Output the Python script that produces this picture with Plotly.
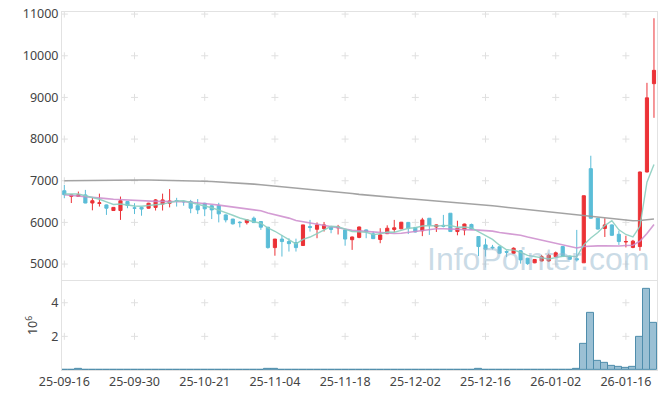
import plotly.graph_objects as go

# ---------------- data ----------------
dates = [
    "25-09-16", "25-09-17", "25-09-18", "25-09-19", "25-09-22", "25-09-23", "25-09-24", "25-09-25", "25-09-26", "25-09-29",
    "25-09-30", "25-10-01", "25-10-02", "25-10-10", "25-10-13", "25-10-14", "25-10-15", "25-10-16", "25-10-17", "25-10-20",
    "25-10-21", "25-10-22", "25-10-23", "25-10-24", "25-10-27", "25-10-28", "25-10-29", "25-10-30", "25-10-31", "25-11-03",
    "25-11-04", "25-11-05", "25-11-06", "25-11-07", "25-11-10", "25-11-11", "25-11-12", "25-11-13", "25-11-14", "25-11-17",
    "25-11-18", "25-11-19", "25-11-20", "25-11-21", "25-11-24", "25-11-25", "25-11-26", "25-11-27", "25-11-28", "25-12-01",
    "25-12-02", "25-12-03", "25-12-04", "25-12-05", "25-12-08", "25-12-09", "25-12-10", "25-12-11", "25-12-12", "25-12-15",
    "25-12-16", "25-12-17", "25-12-18", "25-12-19", "25-12-22", "25-12-23", "25-12-24", "25-12-26", "25-12-29", "25-12-30",
    "26-01-02", "26-01-05", "26-01-06", "26-01-07", "26-01-08", "26-01-09", "26-01-12", "26-01-13", "26-01-14", "26-01-15",
    "26-01-16", "26-01-19", "26-01-20", "26-01-21", "26-01-22",
]

opens = [
    6760, 6625, 6625, 6660, 6465, 6455, 6420, 6285, 6285, 6500,
    6350, 6360, 6340, 6360, 6440, 6460, 6525, 6505, 6500, 6400,
    6460, 6400, 6400, 6180, 6080, 6005, 5995, 6100, 6020, 5885,
    5395, 5600, 5540, 5515, 5445, 5900, 5835, 5850, 5900, 5870,
    5820, 5585, 5640, 5820, 5725, 5590, 5730, 5830, 5845, 6000,
    5880, 5800, 6100, 5890, 5930, 6220, 5780, 5820, 5950, 5660,
    5460, 5405, 5415, 5300, 5260, 5320, 5140, 5030, 5075, 5075,
    5180, 5420, 5190, 5130, 5030, 7290, 6100, 5855, 5940, 5715,
    5530, 5400, 5420, 7210, 9330,
]
highs = [
    6900, 6670, 6740, 6780, 6590, 6690, 6430, 6370, 6620, 6510,
    6460, 6370, 6470, 6560, 6690, 6800, 6590, 6520, 6540, 6560,
    6470, 6410, 6470, 6190, 6085, 6030, 6070, 6140, 6030, 5890,
    5600, 5700, 5620, 5610, 5940, 6060, 6000, 6010, 5910, 5940,
    5830, 5660, 5900, 5830, 5780, 5860, 5930, 6060, 6010, 6010,
    5890, 6110, 6100, 5950, 6180, 6220, 6040, 5970, 5970, 5670,
    5610, 5460, 5420, 5330, 5400, 5330, 5150, 5120, 5220, 5250,
    5300, 5420, 5200, 5820, 6640, 7600, 6110, 6100, 5950, 5800,
    5680, 5580, 7220, 9350, 10900,
]
lows = [
    6580, 6465, 6610, 6460, 6290, 6380, 6180, 6280, 6060, 6340,
    6200, 6160, 6330, 6285, 6285, 6360, 6380, 6400, 6220, 6200,
    6150, 6080, 6000, 6000, 5950, 5880, 5950, 5990, 5820, 5370,
    5200, 5180, 5300, 5300, 5440, 5780, 5620, 5780, 5740, 5710,
    5440, 5340, 5620, 5620, 5600, 5500, 5720, 5765, 5840, 5720,
    5760, 5670, 5700, 5770, 5880, 5770, 5690, 5690, 5830, 5190,
    5180, 5350, 5250, 5170, 5240, 5010, 4980, 5020, 5060, 5050,
    5170, 5170, 5100, 5060, 5030, 6090, 5830, 5650, 5680, 5460,
    5400, 5380, 5320, 7200, 8510,
]
closes = [
    6665, 6660, 6665, 6465, 6520, 6470, 6340, 6360, 6520, 6405,
    6340, 6320, 6460, 6540, 6540, 6515, 6510, 6495, 6340, 6300,
    6325, 6300, 6205, 6060, 5965, 5995, 6060, 5995, 5885, 5395,
    5600, 5540, 5490, 5395, 5940, 5880, 5940, 5940, 5830, 5890,
    5600, 5650, 5890, 5780, 5610, 5700, 5860, 5870, 6005, 5860,
    5770, 6060, 5930, 5940, 5910, 5780, 5860, 5960, 5840, 5420,
    5355, 5390, 5260, 5285, 5380, 5100, 5010, 5110, 5175, 5210,
    5270, 5180, 5115, 5100, 6640, 6100, 5840, 5940, 5690, 5540,
    5540, 5550, 7210, 8990, 9650,
]

ma5 = [
    6680, 6675, 6680, 6640, 6595, 6556, 6492, 6431, 6442, 6419,
    6393, 6389, 6409, 6413, 6440, 6475, 6513, 6520, 6480, 6432,
    6394, 6352, 6294, 6238, 6171, 6105, 6057, 6015, 5980, 5866,
    5787, 5683, 5582, 5484, 5593, 5649, 5729, 5819, 5906, 5896,
    5840, 5782, 5772, 5762, 5706, 5726, 5768, 5764, 5809, 5859,
    5873, 5913, 5925, 5912, 5922, 5924, 5884, 5890, 5870, 5772,
    5687, 5593, 5453, 5342, 5334, 5283, 5207, 5177, 5155, 5121,
    5155, 5189, 5190, 5175, 5461, 5627, 5759, 5924, 6042, 5822,
    5710, 5652, 5906, 6966, 7388,
]
ma20 = [
    6663, 6650, 6640, 6625, 6610, 6590, 6570, 6555, 6545, 6535,
    6525, 6515, 6510, 6505, 6505, 6505, 6500, 6495, 6485, 6472,
    6455, 6437, 6414, 6393, 6366, 6342, 6328, 6310, 6278, 6227,
    6190, 6151, 6103, 6046, 6016, 5984, 5955, 5928, 5902, 5882,
    5845, 5813, 5797, 5783, 5765, 5751, 5741, 5734, 5740, 5764,
    5772, 5798, 5820, 5847, 5846, 5841, 5837, 5838, 5838, 5815,
    5803, 5790, 5758, 5733, 5722, 5692, 5649, 5611, 5570, 5537,
    5512, 5468, 5428, 5386, 5422, 5438, 5437, 5436, 5429, 5435,
    5444, 5452, 5549, 5735, 5948,
]
ma_long = [
    7000, 7003, 7006, 7008, 7010, 7012, 7014, 7015, 7016, 7017,
    7018, 7017, 7016, 7014, 7012, 7010, 7007, 7003, 6998, 6993,
    6988, 6980, 6972, 6963, 6953, 6942, 6930, 6918, 6905, 6890,
    6874, 6858, 6842, 6826, 6810, 6795, 6780, 6765, 6750, 6735,
    6715, 6695, 6672, 6655, 6640, 6625, 6610, 6595, 6580, 6568,
    6555, 6542, 6530, 6518, 6505, 6492, 6480, 6465, 6450, 6432,
    6415, 6398, 6380, 6362, 6345, 6326, 6306, 6286, 6266, 6246,
    6228, 6208, 6188, 6170, 6155, 6138, 6122, 6105, 6088, 6070,
    6050, 6038, 6045, 6060, 6080,
]

volume_m = [
    0.010, 0.015, 0.050, 0.020, 0.015, 0.010, 0.012, 0.008, 0.020, 0.010,
    0.008, 0.010, 0.008, 0.012, 0.010, 0.020, 0.008, 0.006, 0.010, 0.010,
    0.012, 0.010, 0.015, 0.012, 0.010, 0.008, 0.010, 0.008, 0.020, 0.060,
    0.055, 0.020, 0.015, 0.010, 0.020, 0.010, 0.008, 0.010, 0.008, 0.006,
    0.012, 0.010, 0.015, 0.008, 0.010, 0.008, 0.010, 0.012, 0.015, 0.010,
    0.008, 0.015, 0.012, 0.008, 0.010, 0.015, 0.010, 0.012, 0.010, 0.050,
    0.020, 0.010, 0.012, 0.008, 0.010, 0.012, 0.010, 0.008, 0.010, 0.012,
    0.015, 0.020, 0.015, 0.080, 1.570, 3.400, 0.570, 0.450, 0.230, 0.160,
    0.100, 0.160, 1.960, 4.820, 2.820,
]

price_ticks = [5000, 6000, 7000, 8000, 9000, 10000, 11000]
price_tick_labels = [str(p) for p in price_ticks]
vol_ticks = [2, 4]
tick_dates = dates[::10]

# ---------------- style ----------------
UP = "#ec3237"
DOWN = "#5bbdd8"
AXIS_COL = "#e2e2e2"
GRID_COL = "#e0e0e0"
TXT = "#444444"
FONT = "Noto Sans"

fig = go.Figure()

fig.add_trace(go.Candlestick(
    x=dates, open=opens, high=highs, low=lows, close=closes,
    xaxis="x", yaxis="y",
    increasing=dict(line=dict(color=UP, width=1), fillcolor=UP),
    decreasing=dict(line=dict(color=DOWN, width=1), fillcolor=DOWN),
    whiskerwidth=0, showlegend=False, hoverinfo="skip",
))

fig.add_trace(go.Scatter(
    x=[d for d in tick_dates for _ in price_ticks],
    y=[p for _ in tick_dates for p in price_ticks],
    mode="markers", xaxis="x", yaxis="y",
    marker=dict(symbol="cross-thin", size=5, color=GRID_COL,
                line=dict(color=GRID_COL, width=1)),
    hoverinfo="skip", showlegend=False,
))

fig.add_trace(go.Scatter(x=dates, y=ma_long, mode="lines", xaxis="x", yaxis="y",
                         line=dict(color="#9b9b9b", width=1.6), opacity=0.9,
                         hoverinfo="skip", showlegend=False))
fig.add_trace(go.Scatter(x=dates, y=ma20, mode="lines", xaxis="x", yaxis="y",
                         line=dict(color="#cd8ccd", width=1.6), opacity=0.85,
                         hoverinfo="skip", showlegend=False))
fig.add_trace(go.Scatter(x=dates, y=ma5, mode="lines", xaxis="x", yaxis="y",
                         line=dict(color="#8ccfc0", width=1.4), opacity=0.9,
                         hoverinfo="skip", showlegend=False))

fig.add_trace(go.Bar(
    x=dates, y=volume_m, xaxis="x2", yaxis="y2",
    marker=dict(color="rgba(122,171,197,0.75)",
                line=dict(color="#4f8dac", width=1)),
    hoverinfo="skip", showlegend=False,
))

fig.add_trace(go.Scatter(
    x=[d for d in tick_dates for _ in vol_ticks],
    y=[v for _ in tick_dates for v in vol_ticks],
    mode="markers", xaxis="x2", yaxis="y2",
    marker=dict(symbol="cross-thin", size=5, color=GRID_COL,
                line=dict(color=GRID_COL, width=1)),
    hoverinfo="skip", showlegend=False,
))

xrange = [-0.33, len(dates) - 1 + 0.43]

fig.update_layout(
    width=665, height=398,
    margin=dict(l=62, r=8, t=12, b=28, autoexpand=False),
    paper_bgcolor="white", plot_bgcolor="white",
    font=dict(family=FONT, size=12, color=TXT),
    boxgap=0.36, bargap=0,
    xaxis=dict(type="category", categoryorder="array", categoryarray=dates,
               anchor="y", matches="x2", range=xrange, automargin=False,
               showticklabels=False, showgrid=False, zeroline=False,
               showline=True, mirror=True, linecolor=AXIS_COL, linewidth=1,
               rangeslider=dict(visible=False), ticks=""),
    xaxis2=dict(type="category", categoryorder="array", categoryarray=dates,
                anchor="y2", range=xrange, automargin=False,
                tickmode="array", tickvals=tick_dates, ticktext=tick_dates,
                tickangle=0,
                tickfont=dict(size=12.5, color=TXT),
                showgrid=False, zeroline=False,
                showline=True, mirror=True, linecolor=AXIS_COL, linewidth=1,
                ticks=""),
    yaxis=dict(domain=[0.251, 1], range=[4614, 11050], automargin=False,
               tickmode="array", tickvals=price_ticks, ticktext=price_tick_labels,
               tickfont=dict(size=12.5, color=TXT),
               showgrid=False, zeroline=False,
               showline=True, mirror=True, linecolor=AXIS_COL, linewidth=1,
               ticks=""),
    yaxis2=dict(domain=[0, 0.249], range=[0, 5.3], automargin=False,
                tickmode="array", tickvals=vol_ticks, ticktext=[str(v) for v in vol_ticks],
                tickfont=dict(size=12.5, color=TXT),
                title=dict(text="10<sup>6</sup>", font=dict(size=12.5, color=TXT), standoff=10),
                showgrid=False, zeroline=False,
                showline=True, mirror=True, linecolor=AXIS_COL, linewidth=1,
                ticks=""),
    annotations=[dict(
        text="InfoPointer.com", xref="paper", yref="paper",
        x=0.80, y=0.31, xanchor="center", yanchor="middle",
        showarrow=False,
        font=dict(family="Liberation Sans", size=32,
                  color="rgba(150,184,206,0.5)"),
    )],
)

fig.write_html(
    "out.html",
    config={"displayModeBar": False},
    post_script="document.body.style.margin='0';document.body.style.overflow='hidden';",
)
